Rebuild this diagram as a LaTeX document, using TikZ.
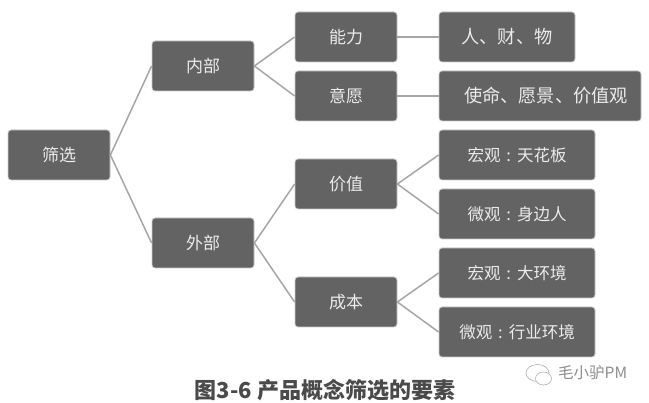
\documentclass[tikz,border=0pt]{standalone}
\usepackage{fontspec}
\setmainfont{Noto Sans CJK SC}
\definecolor{boxgray}{HTML}{636363}
\definecolor{linegray}{HTML}{A6A6A6}
\definecolor{capgray}{HTML}{4A4A4A}
\definecolor{markgray}{HTML}{8C8C8C}
\newcommand{\colonmark}{\makebox[1em][c]{:}}
\tikzset{
    box/.style = {draw=linegray!60, line width=0.8pt, fill=boxgray, rounded corners=3pt, text=white!92!black,
        minimum height=50pt, inner sep=0pt, font=\fontsize{17pt}{20pt}\selectfont},
    short/.style = {box, minimum width=102pt},
    wide/.style = {box, font=\fontsize{18.2pt}{20pt}\selectfont},
    thin box/.style = {box, minimum width=156pt, font=\fontsize{16.5pt}{20pt}\selectfont},
    link/.style = {linegray, line width=1.5pt}
}
\begin{document}
\begin{tikzpicture}[x=1pt, y=-1pt]
    \useasboundingbox (0,0) rectangle (649,403);
    \node[short] (Filter) at (59,155) {筛选};
    \node[short] (Inner) at (203,66) {内部};
    \node[short] (Outer) at (203,243) {外部};
    \node[short] (Ability) at (346,37) {能力};
    \node[short] (Will) at (346,96) {意愿};
    \node[short] (Value) at (346,184) {价值};
    \node[short] (Cost) at (346,302) {成本};
    \node[wide, minimum width=136pt] (Assets) at (507,37) {人、财、物};
    \node[wide, minimum width=202pt] (Mission) at (540,96) {\hspace{12pt}使命、愿景、价值观};
    \node[thin box] (ValueMacro) at (517,155) {宏观\colonmark 天花板};
    \node[thin box] (ValueMicro) at (517,214) {微观\colonmark 身边人};
    \node[thin box] (CostMacro) at (517,273) {宏观\colonmark 大环境};
    \node[thin box] (CostMicro) at (517,332) {微观\colonmark 行业环境};
    \foreach \a/\b in {Filter/Inner, Filter/Outer, Inner/Ability, Inner/Will, Outer/Value, Outer/Cost,
        Ability/Assets, Will/Mission, Value/ValueMacro, Value/ValueMicro, Cost/CostMacro, Cost/CostMicro}
        \draw[link] (\a.east) -- (\b.west);
    \node[text=capgray, font=\fontsize{22pt}{24pt}\selectfont\bfseries] (Caption) at (325,390) {图3-6 产品概念筛选的要素};
    \node[text=markgray, font=\fontsize{15.5pt}{17pt}\selectfont, anchor=west, inner sep=0pt] (Mark) at (558,373) {毛小驴PM};
    % wechat icon
    \draw[markgray!70, line width=0.6pt, fill=white] (537.5,373) ellipse (11.5pt and 8.5pt);
    \draw[markgray!70, line width=0.6pt, fill=white] (543.5,378.5) ellipse (8pt and 6.5pt);
\end{tikzpicture}
\end{document}
